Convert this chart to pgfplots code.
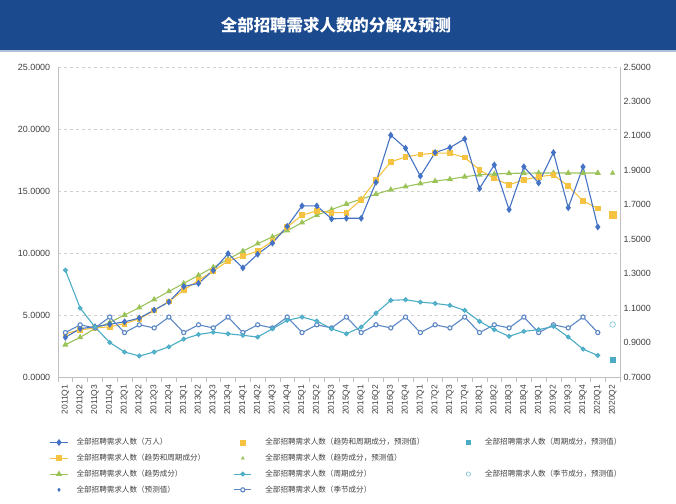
\documentclass[border=0pt]{standalone}
\usepackage{fontspec}
\setmainfont{Liberation Sans}
\newfontfamily\cjk{Noto Sans CJK SC}
\usepackage{pgfplots}
\usepackage{pgfplotstable}
\usetikzlibrary{calc}
\pgfplotsset{compat=1.18}
\definecolor{cBlue}{HTML}{4472C4}
\definecolor{cGold}{HTML}{F5C242}
\definecolor{cGreen}{HTML}{9BC35A}
\definecolor{cCyan}{HTML}{4BACC6}
\definecolor{cSeas}{HTML}{5B87C5}
\definecolor{banner}{HTML}{1B4A8F}
\definecolor{gridc}{HTML}{D0D0D0}
\definecolor{axc}{HTML}{BFBFBF}
\definecolor{tickc}{HTML}{404040}

\pgfplotstableread{
x blue tc trend cyc seas
0 3.20 3.50 2.60 1.320 0.958
1 3.90 3.80 3.20 1.100 1.003
2 4.05 3.95 3.90 0.990 0.985
3 4.25 4.05 4.40 0.900 1.048
4 4.45 4.30 5.00 0.845 0.958
5 4.75 4.70 5.60 0.822 1.003
6 5.40 5.35 6.25 0.845 0.985
7 6.05 6.10 6.90 0.875 1.048
8 7.30 7.00 7.55 0.920 0.958
9 7.55 7.80 8.20 0.947 1.003
10 8.60 8.55 8.85 0.960 0.985
11 9.95 9.35 9.50 0.951 1.048
12 8.80 9.75 10.15 0.942 0.958
13 9.90 10.15 10.75 0.932 1.003
14 10.80 10.95 11.30 0.980 0.985
15 12.15 12.10 11.80 1.029 1.048
16 13.80 13.05 12.45 1.048 0.958
17 13.80 13.40 13.05 1.025 1.003
18 12.75 13.25 13.50 0.980 0.985
19 12.80 13.25 13.95 0.951 1.048
20 12.80 14.30 14.35 0.990 0.958
21 15.70 15.90 14.75 1.071 1.003
22 19.50 17.35 15.10 1.145 0.985
23 18.45 17.75 15.35 1.149 1.048
24 16.20 17.95 15.60 1.135 0.958
25 18.10 18.05 15.80 1.127 1.003
26 18.50 18.05 15.95 1.116 0.985
27 19.20 17.70 16.15 1.087 1.048
28 15.20 16.70 16.30 1.023 0.958
29 17.10 16.00 16.37 0.975 1.003
30 13.50 15.50 16.42 0.936 0.985
31 16.95 15.90 16.44 0.965 1.048
32 15.65 16.15 16.45 0.975 0.958
33 18.10 16.30 16.45 0.994 1.003
34 13.65 15.40 16.45 0.932 0.985
35 16.95 14.20 16.45 0.862 1.048
36 12.10 13.60 16.45 0.825 0.958
}\data

\pgfplotstableread{
x blue tc trend cyc seas
37 13.20 13.10 16.45 0.800 1.005
}\pred

\pgfplotsset{
  sBlue/.style={color=cBlue, line width=1.1pt, mark=diamond*, mark size=2.6pt, mark options={solid}},
  sGold/.style={color=cGold, line width=1.1pt, mark=square*, mark size=2.3pt, mark options={solid}},
  sGreen/.style={color=cGreen, line width=1.1pt, mark=triangle*, mark size=2.5pt, mark options={solid}},
  sCyan/.style={color=cCyan, line width=1.1pt, mark=*, mark size=1.9pt, mark options={solid, fill=cCyan!85!white}},
  sSeas/.style={color=cSeas, line width=1.1pt, mark=*, mark size=2.1pt, mark options={solid, fill=white, draw=cSeas}},
  pBlue/.style={only marks, color=cBlue, mark=diamond*, mark size=1.8pt},
  pGold/.style={only marks, color=cGold, mark=square*, mark size=3.3pt},
  pGreen/.style={only marks, color=cGreen, mark=triangle*, mark size=2.6pt},
  pCyan/.style={only marks, color=cCyan, mark=square*, mark size=2.8pt},
  pSeas/.style={only marks, color=cCyan, mark=*, mark size=2.8pt, mark options={fill=white, draw=cCyan}},
  common/.style={
    scale only axis, width=562bp, height=310bp,
    xmin=-0.5, xmax=37.5,
    axis line style={draw=axc, line width=0.8pt, -},
    yticklabel style={font=\fontsize{9}{10}\selectfont, text=tickc, /pgf/number format/.cd, fixed, fixed zerofill, precision=4},
    xticklabel style={font=\fontsize{8.5}{10}\selectfont, text=tickc},
    /pgf/number format/assume math mode=true,
    ytick style={draw=none},
  },
}

\begin{document}
\begin{tikzpicture}[x=1bp,y=1bp]
\begin{pgfinterruptboundingbox}
\begin{axis}[common, name=main,
  ymin=0, ymax=25, ytick={0,5,10,15,20,25},
  axis y line*=left, axis x line*=bottom,
  ymajorgrids, major grid style={dashed, gridc, line width=0.6pt},
  xtick={0,...,37},
  xticklabels={2011Q1,2011Q2,2011Q3,2011Q4,2012Q1,2012Q2,2012Q3,2012Q4,2013Q1,2013Q2,2013Q3,2013Q4,2014Q1,2014Q2,2014Q3,2014Q4,2015Q1,2015Q2,2015Q3,2015Q4,2016Q1,2016Q2,2016Q3,2016Q4,2017Q1,2017Q2,2017Q3,2017Q4,2018Q1,2018Q2,2018Q3,2018Q4,2019Q1,2019Q2,2019Q3,2019Q4,2020Q1,2020Q2},
  xticklabel style={rotate=90, anchor=east},
  xtick style={draw=none},
  minor xtick={-0.5,0.5,...,37.5},
  minor tick length=5bp, tick align=outside,
  minor x tick style={draw=axc, line width=0.6pt},
]
\coordinate (O) at (rel axis cs:0,0);
\addplot[sGreen, forget plot] table[x=x, y=trend] {\data};
\addplot[sGold, forget plot] table[x=x, y=tc] {\data};
\addplot[sBlue, forget plot] table[x=x, y=blue] {\data};
\addplot[pBlue, forget plot] table[x=x, y=blue] {\pred};
\addplot[pGreen, forget plot] table[x=x, y=trend] {\pred};
\addplot[pGold, forget plot] table[x=x, y=tc] {\pred};
\end{axis}

\begin{axis}[common,
  ymin=0.7, ymax=2.5, ytick={0.7,0.9,1.1,1.3,1.5,1.7,1.9,2.1,2.3,2.5},
  axis y line*=right, axis x line=none,
  legend columns=3,
  legend cell align=left,
  legend style={at={(-0.02,-0.186)}, anchor=north west, draw=none, fill=none,
    font=\cjk\fontsize{7.6}{9}\selectfont, text=tickc,
    row sep=4.6bp,
    nodes={inner sep=1.5bp, text height=6.6bp, text depth=1.6bp},
    /tikz/every odd column/.append style={column sep=7bp},
    /tikz/every even column/.append style={column sep=27bp}},
]
\addplot[sSeas, forget plot] table[x=x, y=seas] {\data};
\addplot[sCyan, forget plot] table[x=x, y=cyc] {\data};
\addplot[pSeas, forget plot] table[x=x, y=seas] {\pred};
\addplot[pCyan, forget plot] table[x=x, y=cyc] {\pred};

\addlegendimage{sBlue}
\addlegendentry{全部招聘需求人数（万人）}
\addlegendimage{pGold, mark size=2.4pt}
\addlegendentry{\hspace*{5bp}全部招聘需求人数（趋势和周期成分，预测值）\hspace*{7bp}}
\addlegendimage{pCyan, mark size=1.8pt}
\addlegendentry{\hspace*{6bp}全部招聘需求人数（周期成分，预测值）}
\addlegendimage{sGold}
\addlegendentry{全部招聘需求人数（趋势和周期成分）}
\addlegendimage{pGreen, mark size=1.8pt}
\addlegendentry{\hspace*{5bp}全部招聘需求人数（趋势成分，预测值）}
\addlegendimage{empty legend}
\addlegendentry{}
\addlegendimage{sGreen}
\addlegendentry{全部招聘需求人数（趋势成分）}
\addlegendimage{sCyan}
\addlegendentry{\hspace*{5bp}全部招聘需求人数（周期成分）}
\addlegendimage{pSeas, mark size=2.2pt}
\addlegendentry{\hspace*{6bp}全部招聘需求人数（季节成分，预测值）}
\addlegendimage{pBlue}
\addlegendentry{全部招聘需求人数（预测值）}
\addlegendimage{sSeas}
\addlegendentry{\hspace*{5bp}全部招聘需求人数（季节成分）}
\end{axis}
\end{pgfinterruptboundingbox}
\path[use as bounding box] ($(O)+(-58,-127)$) rectangle ($(O)+(618,377)$);
\fill[banner] ($(O)+(-58,327)$) rectangle ($(O)+(618,377)$);
\fill[banner!35!white] ($(O)+(-58,325.3)$) rectangle ($(O)+(618,327)$);
\node[text=white, font=\cjk\bfseries\fontsize{16.5}{19}\selectfont] at ($(O)+(278,352)$) {全部招聘需求人数的分解及预测};
\end{tikzpicture}
\end{document}
